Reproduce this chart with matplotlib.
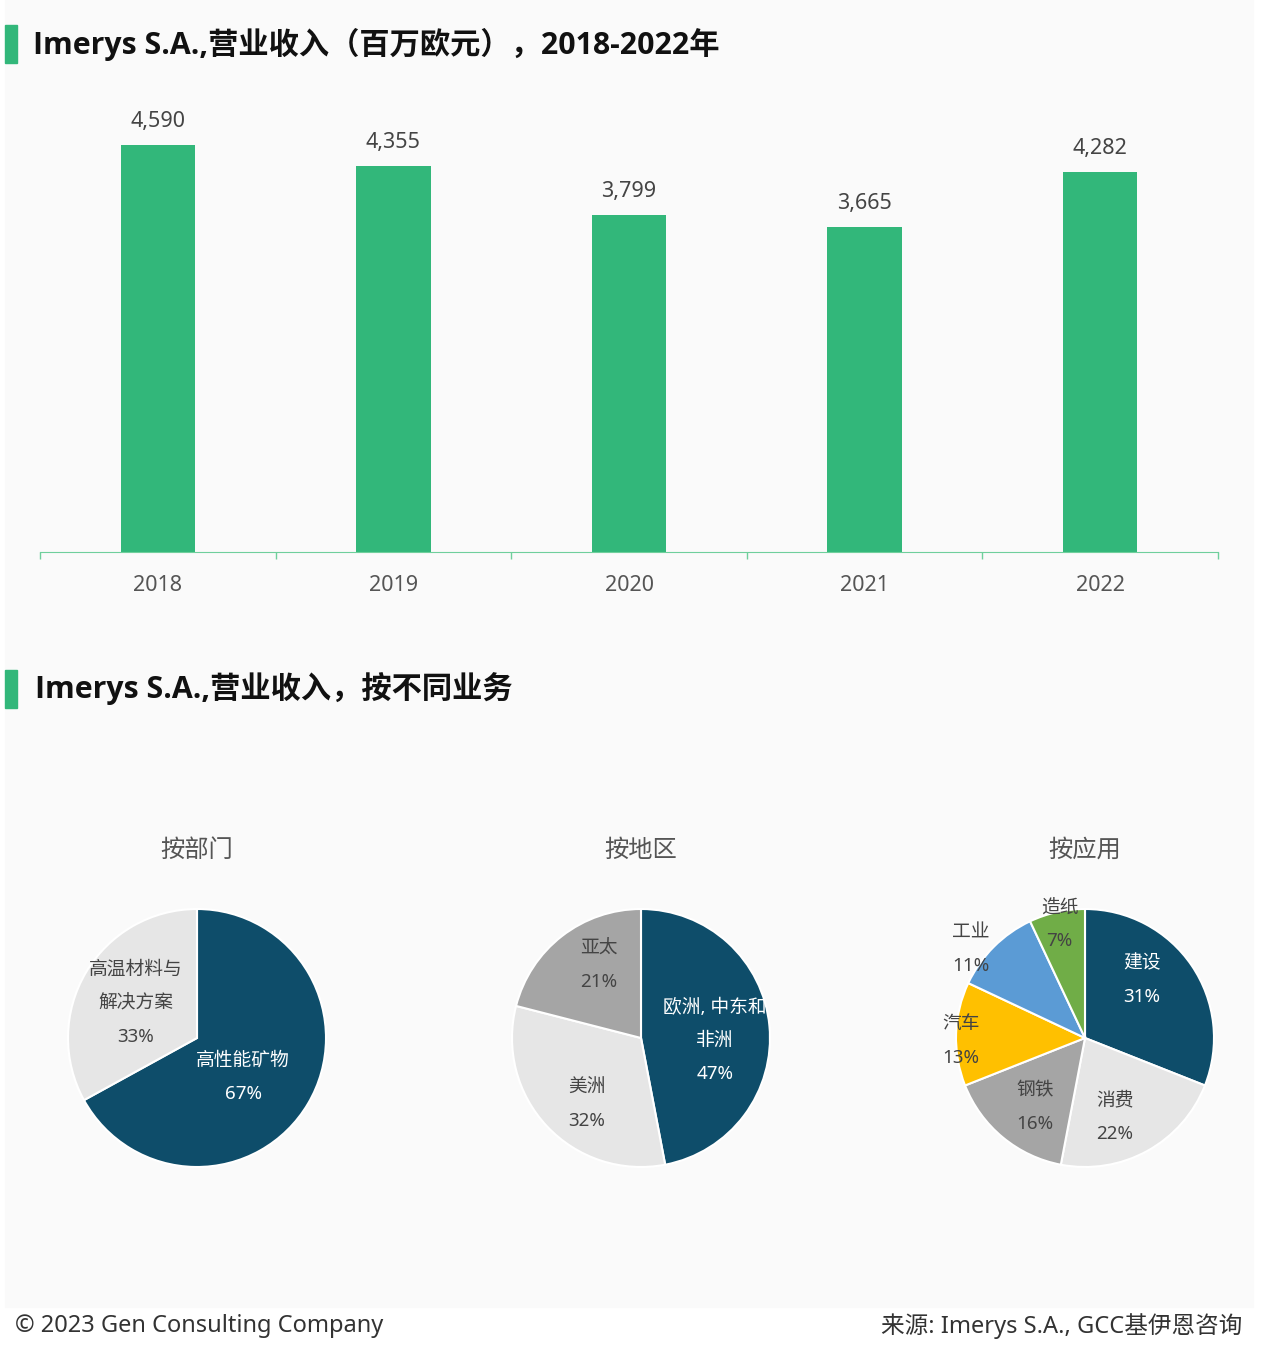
import matplotlib
matplotlib.use("Agg")
import matplotlib.pyplot as plt
from matplotlib.patches import Rectangle
import numpy as np

plt.rcParams["font.family"] = ["Noto Sans", "Noto Sans CJK SC", "DejaVu Sans"]

# ---- данные ----
years = ["2018", "2019", "2020", "2021", "2022"]
revenue = [4590, 4355, 3799, 3665, 4282]

seg_labels = ["高性能矿物", "高温材料与\n解决方案"]
seg_values = [67, 33]

reg_labels = ["欧洲, 中东和\n非洲", "美洲", "亚太"]
reg_values = [47, 32, 21]

app_labels = ["建设", "消费", "钢铁", "汽车", "工业", "造纸"]
app_values = [31, 22, 16, 13, 11, 7]

# ---- стиль ----
W, H = 1280, 1355
GREEN = "#32b77a"
DARK = "#0e4d6a"
TXT = "#444444"
pie_colors_2 = [DARK, "#e6e6e6"]
pie_colors_3 = [DARK, "#e6e6e6", "#a5a5a5"]
pie_colors_6 = [DARK, "#e6e6e6", "#a5a5a5", "#ffc000", "#5b9bd5", "#70ad47"]


def fx(px):
    return px / W


def fy(py):
    return 1 - py / H


fig = plt.figure(figsize=(W / 100, H / 100), dpi=100, facecolor="white")
fig.patches.append(Rectangle((fx(5), fy(1307)), fx(1248), 1307 / H,
                             transform=fig.transFigure, color="#fafafa", zorder=-10))

# заголовки
for y0, y1, tx, text in [(25, 63, 33, "Imerys S.A.,营业收入（百万欧元），2018-2022年"),
                         (670, 708, 35, "Imerys S.A.,营业收入，按不同业务")]:
    fig.patches.append(Rectangle((fx(5), fy(y1)), fx(12), (y1 - y0) / H,
                                 transform=fig.transFigure, color=GREEN))
    fig.text(fx(tx), fy((y0 + y1) / 2), text, fontsize=21.8, fontweight="bold",
             family=["Open Sans", "Noto Sans CJK SC", "DejaVu Sans"],
             color="#111111", va="center", ha="left")

# ---- столбчатая диаграмма ----
ymax = 5100
ax = fig.add_axes([fx(40), fy(552), fx(1178), 452 / H])
ax.set_facecolor("none")
x = np.arange(len(years))
bars = ax.bar(x, revenue, width=0.315, color=GREEN)
for xi, v in zip(x, revenue):
    ax.annotate(f"{v:,}", (xi, v), xytext=(0, 17), textcoords="offset points",
                ha="center", va="center", fontsize=15.5, color=TXT)
ax.set_xlim(-0.5, len(years) - 0.5)
ax.set_ylim(0, ymax)
for s in ["top", "right", "left"]:
    ax.spines[s].set_visible(False)
ax.spines["bottom"].set_color("#6fcf9c")
ax.set_yticks([])
ax.set_xticks(x)
ax.set_xticklabels(years, fontsize=15.5, color="#555555")
ax.tick_params(axis="x", which="major", length=0, pad=16.5)
ax.set_xticks(np.arange(-0.5, len(years)), minor=True)
ax.tick_params(axis="x", which="minor", length=5, color="#6fcf9c", width=1)

# ---- круговые диаграммы ----
# положение подписей: (доля радиуса, сдвиг угла от середины сектора, градусы)
R = 129
S = 320
pies = [
    (197, "按部门", seg_labels, seg_values, pie_colors_2,
     [(0.47, -9.7), (0.545, 1.0)]),
    (641, "按地区", reg_labels, reg_values, pie_colors_3,
     [(0.574, -7.7), (0.661, 7.5), (0.653, -7.9)]),
    (1085, "按应用", app_labels, app_values, pie_colors_6,
     [(0.63, 11.3), (0.655, -8.0), (0.661, 3.7), (0.961, 3.2), (1.121, 7.0),
      (0.905, 0.0)]),
]
cy = 1038
for cx, title, labels, values, colors, lpos in pies:
    fig.text(fx(cx), fy(851), title, fontsize=17.5, color="#555555",
             ha="center", va="center")
    pax = fig.add_axes([fx(cx - S / 2), fy(cy + S / 2), fx(S), S / H])
    wedges, _ = pax.pie(values, colors=colors, startangle=90, counterclock=False,
                        radius=1, wedgeprops=dict(edgecolor="white", linewidth=1.5))
    lim = S / 2 / R
    pax.set_xlim(-lim, lim)
    pax.set_ylim(-lim, lim)
    pax.set_aspect("equal")
    pax.axis("off")
    for w, lab, v, (d, nudge), c in zip(wedges, labels, values, lpos, colors):
        mid = np.deg2rad((w.theta1 + w.theta2) / 2 + nudge)
        tc = "white" if c == DARK else TXT
        pax.text(d * np.cos(mid), d * np.sin(mid), f"{lab}\n{v}%", ha="center",
                 va="center", fontsize=13.5, color=tc, linespacing=2.1,
                 clip_on=False)

# ---- подвал ----
fig.text(fx(15), fy(1326), "© 2023 Gen Consulting Company", fontsize=17,
         fontweight="light", color="#333333", ha="left", va="center")
fig.text(fx(1242), fy(1326), "来源: Imerys S.A., GCC基伊恩咨询", fontsize=17,
         fontweight="light", color="#333333", ha="right", va="center")

fig.savefig("out.png", dpi=100, facecolor="white")
